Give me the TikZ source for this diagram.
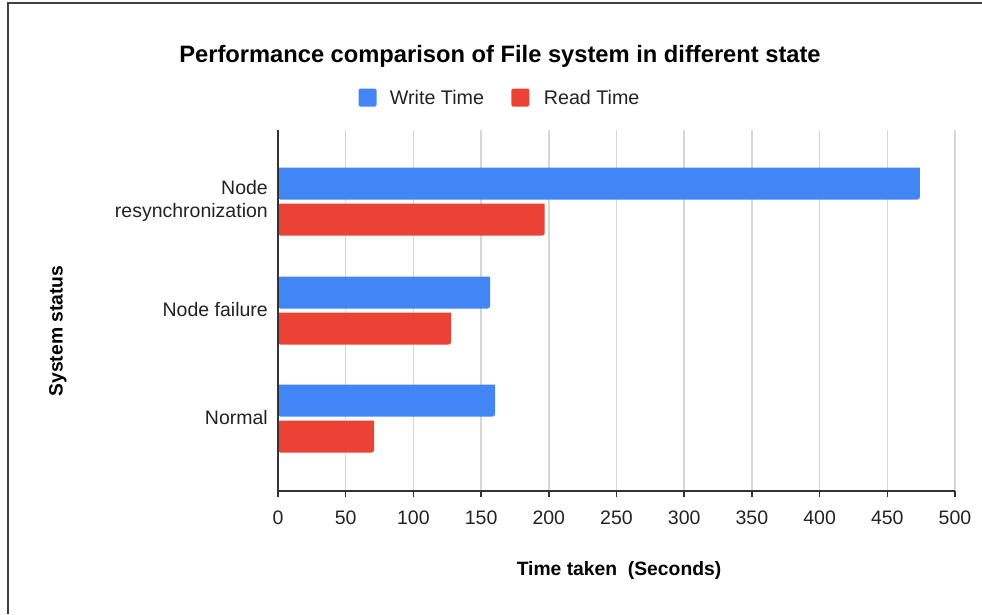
\documentclass[tikz,border=0pt]{standalone}
\usepackage{fontspec}
\setmainfont{Liberation Sans}
\usetikzlibrary{positioning}
\definecolor{wblue}{HTML}{4285F4}
\definecolor{rred}{HTML}{EA4335}
\definecolor{gridgray}{HTML}{D6D6D6}
\definecolor{axgray}{HTML}{333333}
\definecolor{txtgray}{HTML}{222222}
\tikzset{
  wbar/.style    = {fill=wblue},
  rbar/.style    = {fill=rred},
  gridln/.style  = {gridgray, line width=1.5pt},
  axisln/.style  = {axgray, line width=1.5pt},
  ticklab/.style = {font=\fontsize{19.5}{23}\selectfont, text=txtgray,
                    anchor=base, inner sep=0pt},
  catlab/.style  = {font=\fontsize{19.5}{23}\selectfont, text=txtgray,
                    anchor=east, align=right, inner sep=0pt},
  ttl/.style     = {font=\bfseries\fontsize{23.7}{27}\selectfont, anchor=base, inner sep=0pt},
  axttl/.style   = {font=\bfseries\fontsize{19.3}{23}\selectfont, inner sep=0pt},
  legkey/.style  = {minimum size=18pt, inner sep=0pt, rounded corners=1.5pt},
  legtxt/.style  = {font=\fontsize{19.7}{23}\selectfont, text=txtgray, inner sep=0pt},
}
\newcommand{\chartbar}[4]{%
  \fill[#1] (0,#2) -- (#4,#2) [rounded corners=2.5pt] -- (#4,#3) -- (0,#3) [sharp corners] -- cycle;}

\begin{document}
\begin{tikzpicture}[x=1pt, y=-1pt]
\useasboundingbox (0,0) rectangle (982,614);
\draw[black!75, line width=1.2pt] (8,614) -- (8,3) -- (982,3);

\node[ttl] (title) at (500,62) {Performance comparison of File system in different state};

\node[legkey, fill=wblue] (kw) at (367.5,97.5) {};
\node[legtxt, right=13pt of kw] (lw) {Write Time};
\node[legkey, fill=rred, right=27pt of lw] (kr) {};
\node[legtxt, right=14pt of kr] (lr) {Read Time};

\begin{scope}[shift={(278,0)}, x=1.354pt]
  \foreach \v in {50,100,...,500}
    \draw[gridln] (\v,130) -- (\v,491);
  \foreach \y/\vw/\vr in {167.5/474/197, 276.5/156.6/127.8, 384.5/160.3/71}{
    \chartbar{wbar}{\y}{\y+32}{\vw}
    \chartbar{rbar}{\y+36}{\y+68}{\vr}
  }
  \draw[axisln] (0,130) -- (0,491) -- (500,491);
  \foreach \v in {0,50,...,500}{
    \draw[axisln] (\v,491) -- (\v,497);
    \node[ticklab] (t\v) at (\v,524) {\v};
  }
\end{scope}

\node[catlab] (cres) at (268,201) {Node\\resynchronization};
\node[catlab] (cfail) at (268,310) {Node failure};
\node[catlab] (cnorm) at (268,418) {Normal};

\node[axttl, rotate=90] (ytitle) at (58,331) {System status};
\node[axttl, anchor=base] (xtitle) at (619,575) {Time taken~~(Seconds)};
\end{tikzpicture}
\end{document}
